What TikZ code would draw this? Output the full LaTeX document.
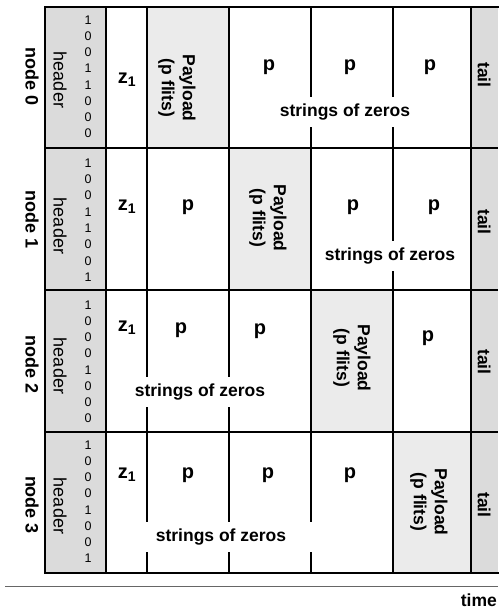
\documentclass[tikz,border=0pt]{standalone}
\usepackage{fontspec}
\setmainfont{Liberation Sans}
\begin{document}
\begin{tikzpicture}[x=1pt,y=-1pt,
  big/.style={font=\fontsize{17.5}{21}\selectfont\bfseries, inner sep=0pt},
  letter/.style={font=\fontsize{20}{24}\selectfont\bfseries, inner sep=0pt},
  lab/.style={font=\fontsize{18}{21}\selectfont, inner sep=0pt, rotate=-90},
  nodelab/.style={font=\fontsize{18}{21}\selectfont\bfseries, inner sep=0pt, rotate=-90},
  taillab/.style={font=\fontsize{17.5}{21}\selectfont\bfseries, inner sep=0pt, rotate=-90},
  rotbig/.style={big, rotate=-90, align=center},
  digit/.style={font=\fontsize{12.5}{13}\selectfont, inner sep=0pt},
  zeros/.style={big, fill=white, inner xsep=2pt, minimum height=30pt},
  grid/.style={line width=2pt},
  outer/.style={line width=2.4pt},
  hdrfill/.style={fill=black!14},
  payfill/.style={fill=black!8}
]
\useasboundingbox (0,0) rectangle (498,612);
\def\xa{45}\def\xb{106}\def\xc{147}\def\xd{229}\def\xe{311}\def\xf{393}\def\xg{471}\def\xh{498}
% fills
\fill[hdrfill] (\xa,7) rectangle (\xb,573);
\fill[hdrfill] (\xg,7) rectangle (\xh,573);
\fill[payfill] (\xc,7) rectangle (\xd,148);
\fill[payfill] (\xd,148) rectangle (\xe,290);
\fill[payfill] (\xe,290) rectangle (\xf,432);
\fill[payfill] (\xf,432) rectangle (\xg,573);
% grid lines
\foreach \x in {\xb,\xc,\xd,\xe,\xf,\xg} \draw[grid] (\x,7) -- (\x,573);
\foreach \y in {148,290,432} \draw[grid] (\xa,\y) -- (\xh,\y);
\draw[outer] (\xh+2,7) -- (\xa,7) -- (\xa,573) -- (\xh+2,573);
% time axis
\coordinate (t0) at (5,586);
\coordinate (t1) at (498,586);
\draw[black!60, line width=1pt] (t0) -- (t1);
\node[big, anchor=east] (time) at (497,600) {time};

% ---------- row 0 ----------
\node[nodelab] (n0) at (32,77) {node 0};
\node[lab] (h0) at (60,80) {header};
\foreach \d [count=\i from 0] in {1,0,0,1,1,0,0,0}
  \node[digit] (d0\i) at (88,20+16.2*\i) {\d};
\node[letter] (z0) at (127,80) {z\textsubscript{1}};
\node[rotbig] (pl0) at (177,88) {Payload\\(p flits)};
\node[letter] (p04) at (269,67) {p};
\node[letter] (p05) at (350,67) {p};
\node[letter] (p06) at (430,67) {p};
\node[taillab] (tl0) at (484,75) {tail};
\node[zeros] (s0) at (345,112) {strings of zeros};

% ---------- row 1 ----------
\node[nodelab] (n1) at (32,220) {node 1};
\node[lab] (h1) at (60,226) {header};
\foreach \d [count=\i from 0] in {1,0,0,1,1,0,0,1}
  \node[digit] (d1\i) at (88,163+16.3*\i) {\d};
\node[letter] (z1) at (127,207) {z\textsubscript{1}};
\node[letter] (p13) at (188,207) {p};
\node[rotbig] (pl1) at (268,218) {Payload\\(p flits)};
\node[letter] (p15) at (353,207) {p};
\node[letter] (p16) at (434,207) {p};
\node[taillab] (tl1) at (484,222) {tail};
\node[zeros] (s1) at (390,256) {strings of zeros};

% ---------- row 2 ----------
\node[nodelab] (n2) at (32,365) {node 2};
\node[lab] (h2) at (60,366) {header};
\foreach \d [count=\i from 0] in {1,0,0,0,1,0,0,0}
  \node[digit] (d2\i) at (88,305+16.2*\i) {\d};
\node[letter] (z2) at (127,328) {z\textsubscript{1}};
\node[letter] (p23) at (181,330) {p};
\node[letter] (p24) at (260,331) {p};
\node[rotbig] (pl2) at (352,358) {Payload\\(p flits)};
\node[letter] (p26) at (428,338) {p};
\node[taillab] (tl2) at (484,362) {tail};
\node[zeros] (s2) at (200,392) {strings of zeros};

% ---------- row 3 ----------
\node[nodelab] (n3) at (32,505) {node 3};
\node[lab] (h3) at (60,506) {header};
\foreach \d [count=\i from 0] in {1,0,0,0,1,0,0,1}
  \node[digit] (d3\i) at (88,445+16.2*\i) {\d};
\node[letter] (z3) at (127,475) {z\textsubscript{1}};
\node[letter] (p33) at (188,475) {p};
\node[letter] (p34) at (268,475) {p};
\node[letter] (p35) at (350,475) {p};
\node[rotbig] (pl3) at (429,502) {Payload\\(p flits)};
\node[taillab] (tl3) at (484,505) {tail};
\fill[white] (140,522) rectangle (316,552);
\node[zeros] (s3) at (221,537) {strings of zeros};
\end{tikzpicture}
\end{document}
